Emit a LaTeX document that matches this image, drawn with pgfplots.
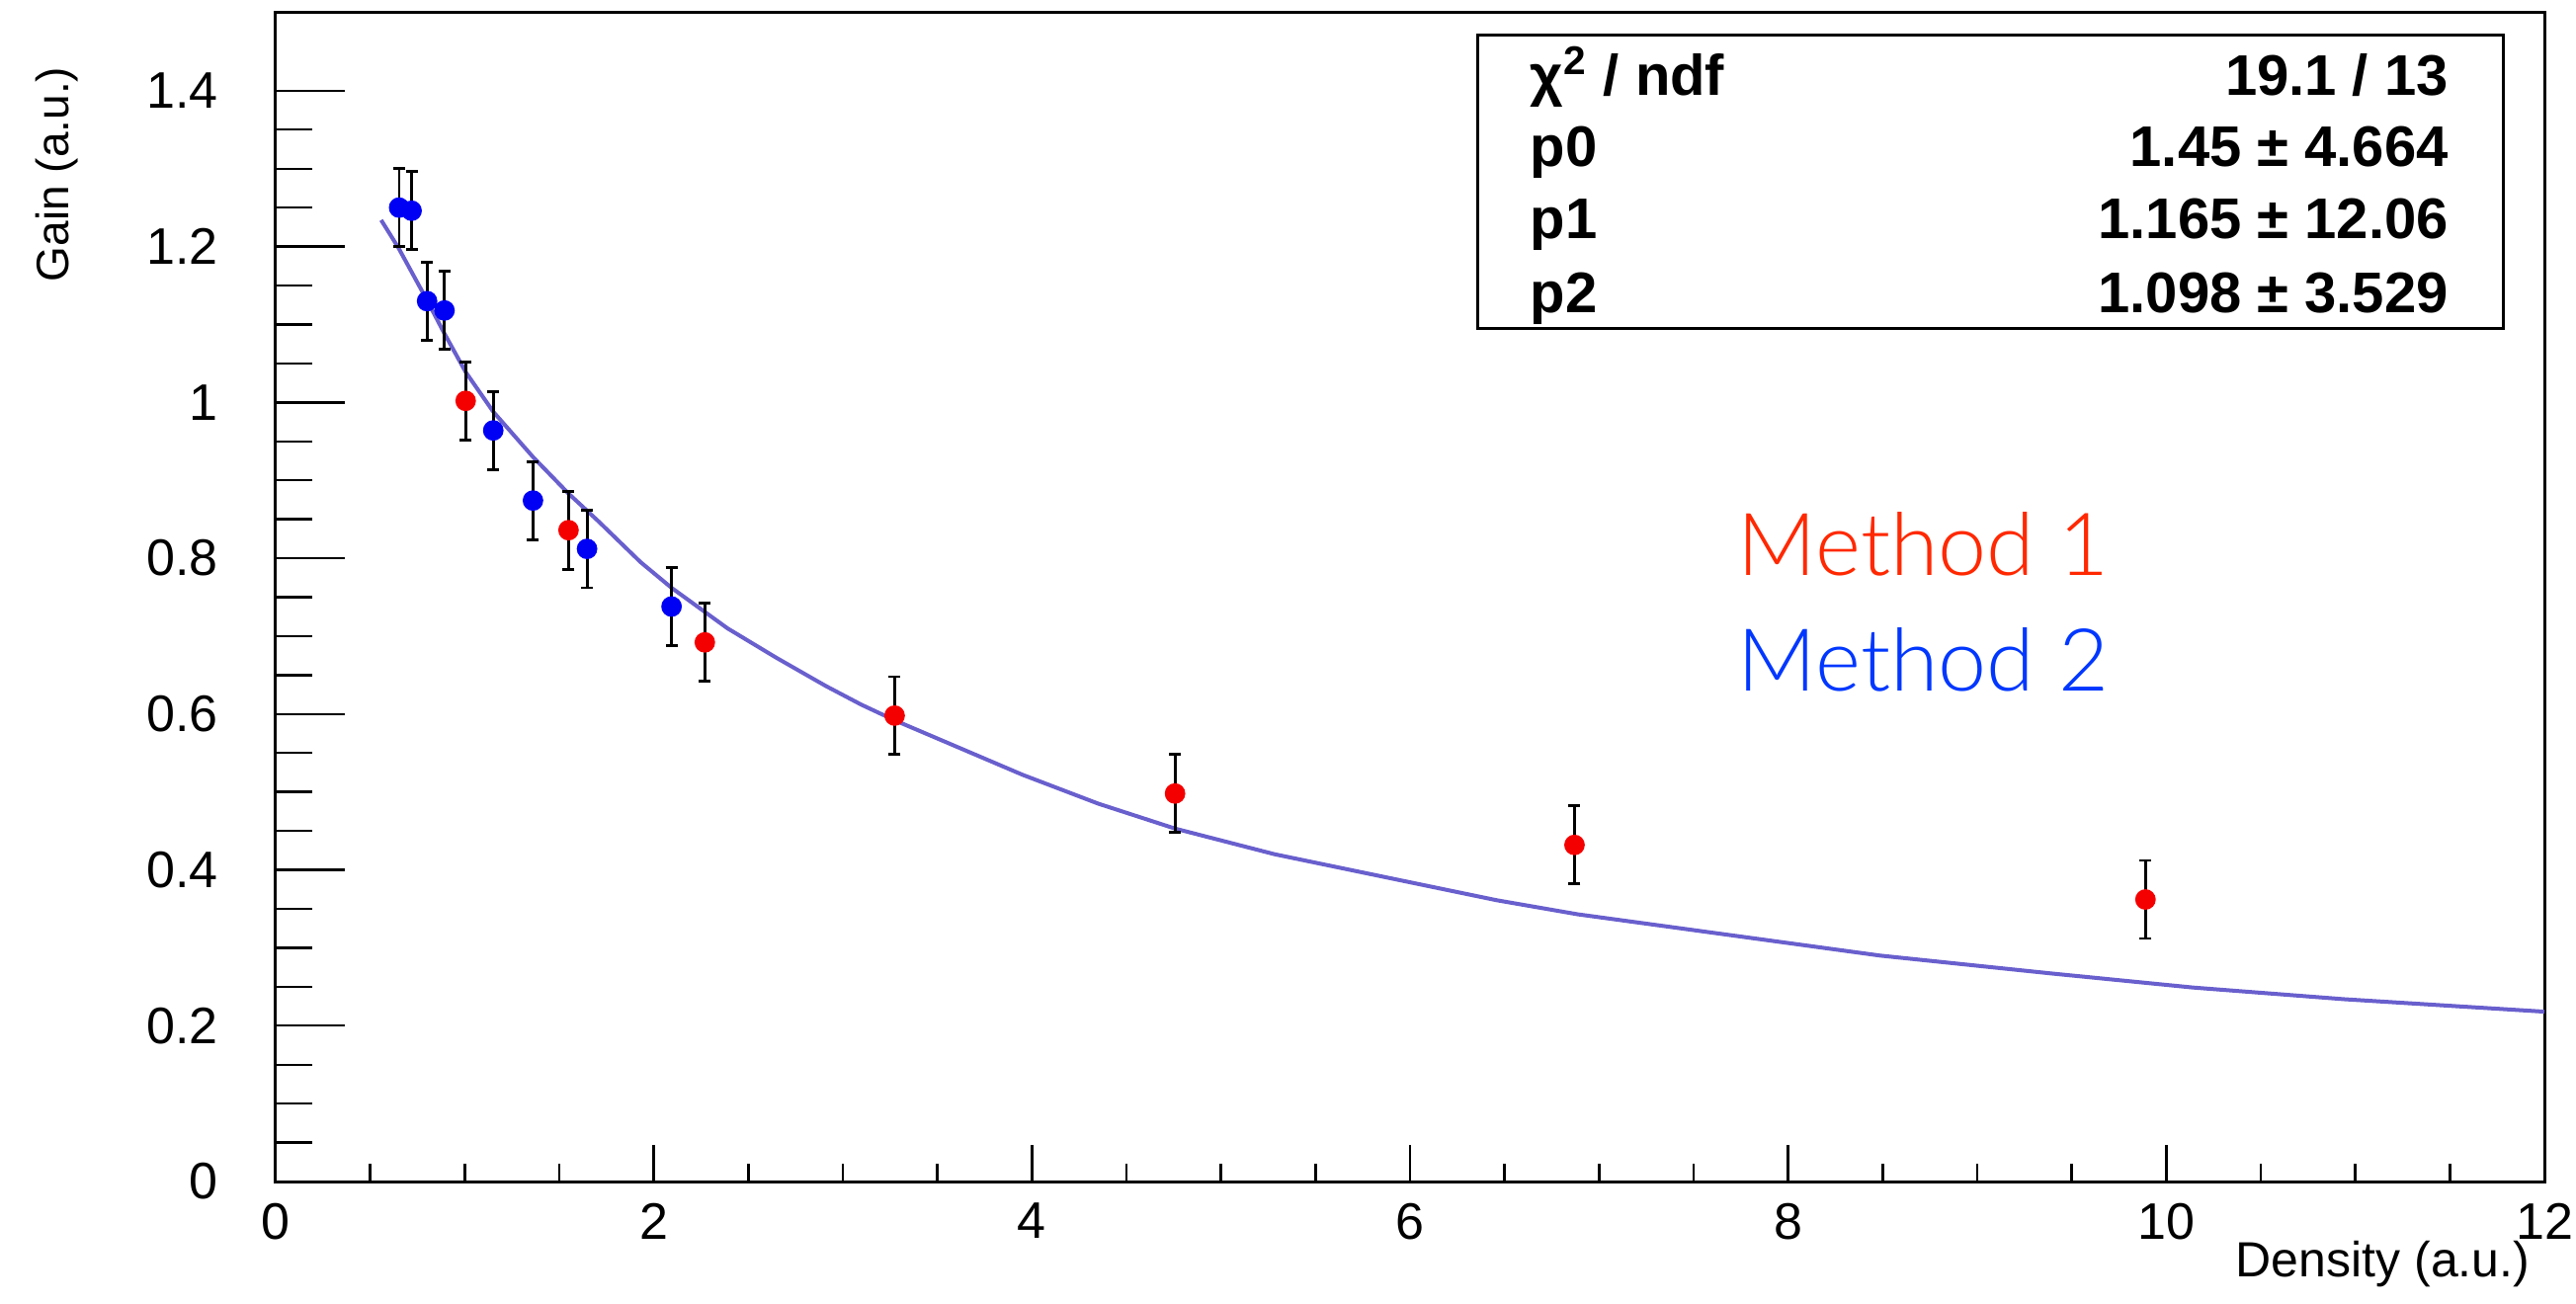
\documentclass[border=0pt]{standalone}
\usepackage{fontspec}
\setmainfont{Liberation Sans}
\newfontfamily\lightfont{Lato Light}
\usepackage{pgfplots}
\pgfplotsset{compat=1.18}
\definecolor{fitcol}{RGB}{105,95,205}
\definecolor{mred}{RGB}{245,0,0}
\definecolor{mblue}{RGB}{0,0,245}
\definecolor{txtred}{RGB}{255,40,0}
\definecolor{txtblue}{RGB}{0,55,255}

\pgfplotstableread{
x y e
1.005 1.002 0.05
1.549 0.836 0.05
2.270 0.692 0.05
3.274 0.598 0.05
4.757 0.498 0.05
6.870 0.432 0.05
9.890 0.362 0.05
}\methodone

\pgfplotstableread{
x y e
0.653 1.250 0.05
0.719 1.246 0.05
0.801 1.130 0.05
0.893 1.118 0.05
1.151 0.964 0.05
1.361 0.874 0.05
1.647 0.812 0.05
2.094 0.738 0.05
}\methodtwo

\pgfplotstableread{
x y
0.558 1.234
0.648 1.199
0.801 1.131
0.889 1.090
1.005 1.039
1.151 0.988
1.361 0.930
1.549 0.883
1.709 0.847
1.930 0.795
2.094 0.762
2.390 0.710
2.650 0.672
2.910 0.636
3.098 0.612
3.274 0.592
3.951 0.522
4.351 0.485
4.757 0.453
5.285 0.420
6.459 0.361
6.886 0.343
8.486 0.290
9.394 0.267
10.140 0.249
10.940 0.234
12.000 0.218
}\fitcurve

\begin{document}
\begin{tikzpicture}
\begin{axis}[
  width=574pt, height=295.75pt, scale only axis,
  xmin=0, xmax=12, ymin=0, ymax=1.5,
  axis line style={line width=0.75pt},
  tick align=inside, xtick pos=bottom, ytick pos=left,
  xtick={0,2,4,6,8,10,12},
  ytick={0,0.2,0.4,0.6,0.8,1,1.2,1.4},
  minor x tick num=3, minor y tick num=3,
  x tick style={black, line width=0.6pt, /pgfplots/major tick length=9.25pt, /pgfplots/minor tick length=4.5pt},
  y tick style={black, line width=0.6pt, /pgfplots/major tick length=17.5pt, /pgfplots/minor tick length=9.25pt},
  /pgf/number format/assume math mode=true,
  tick label style={font=\fontsize{13}{15}\selectfont},
  yticklabel style={xshift=-11pt},
  xticklabel style={yshift=-2pt},
  clip=false,
]
\addplot[fitcol, line width=1pt, no markers] table[x=x,y=y] {\fitcurve};

\addplot[only marks, mark=*, mark size=2.4pt, mark options={mred, draw=mred, fill=mred},
  error bars/.cd, y dir=both, y explicit,
  error bar style={black, line width=0.7pt},
  error mark=-,
  error mark options={black, rotate=90, mark size=1.5pt, line width=0.7pt}]
  table[x=x, y=y, y error=e] {\methodone};

\addplot[only marks, mark=*, mark size=2.4pt, mark options={mblue, draw=mblue, fill=mblue},
  error bars/.cd, y dir=both, y explicit,
  error bar style={black, line width=0.7pt},
  error mark=-,
  error mark options={black, rotate=90, mark size=1.5pt, line width=0.7pt}]
  table[x=x, y=y, y error=e] {\methodtwo};

% stats box
\draw[line width=0.75pt, fill=white] (rel axis cs:0.530,0.7295) rectangle (rel axis cs:0.9817,0.9806);
\begin{scope}[every node/.style={font=\bfseries\fontsize{14.5}{16}\selectfont, inner sep=0pt}]
\node[anchor=base west] at (rel axis cs:0.5527,0.9293) {χ\textsuperscript{2} / ndf};
\node[anchor=base east] at (rel axis cs:0.958,0.9293) {19.1 / 13};
\node[anchor=base west] at (rel axis cs:0.5527,0.8687) {p0};
\node[anchor=base east] at (rel axis cs:0.958,0.8687) {1.45 ± 4.664};
\node[anchor=base west] at (rel axis cs:0.5527,0.8067) {p1};
\node[anchor=base east] at (rel axis cs:0.958,0.8067) {1.165 ± 12.06};
\node[anchor=base west] at (rel axis cs:0.5527,0.7433) {p2};
\node[anchor=base east] at (rel axis cs:0.958,0.7433) {1.098 ± 3.529};
\end{scope}

\node[anchor=base west, inner sep=0pt, text=txtred, font=\lightfont\fontsize{22}{25}\selectfont] at (rel axis cs:0.6442,0.5184) {Method 1};
\node[anchor=base west, inner sep=0pt, text=txtblue, font=\lightfont\fontsize{22}{25}\selectfont] at (rel axis cs:0.6442,0.4193) {Method 2};

\node[anchor=east, rotate=90, inner sep=0pt, font=\fontsize{11.5}{13}\selectfont] at (rel axis cs:-0.0963,0.9544) {Gain (a.u.)};
\node[anchor=east, inner sep=0pt, font=\fontsize{12.5}{14}\selectfont] at (rel axis cs:0.9939,-0.071) {Density (a.u.)};

\coordinate (bbbl) at (rel axis cs:-0.1215,-0.10397);
\coordinate (bbtr) at (rel axis cs:1.01394,1.01099);
\end{axis}
\pgfresetboundingbox
\useasboundingbox (bbbl) rectangle (bbtr);
\end{tikzpicture}
\end{document}
